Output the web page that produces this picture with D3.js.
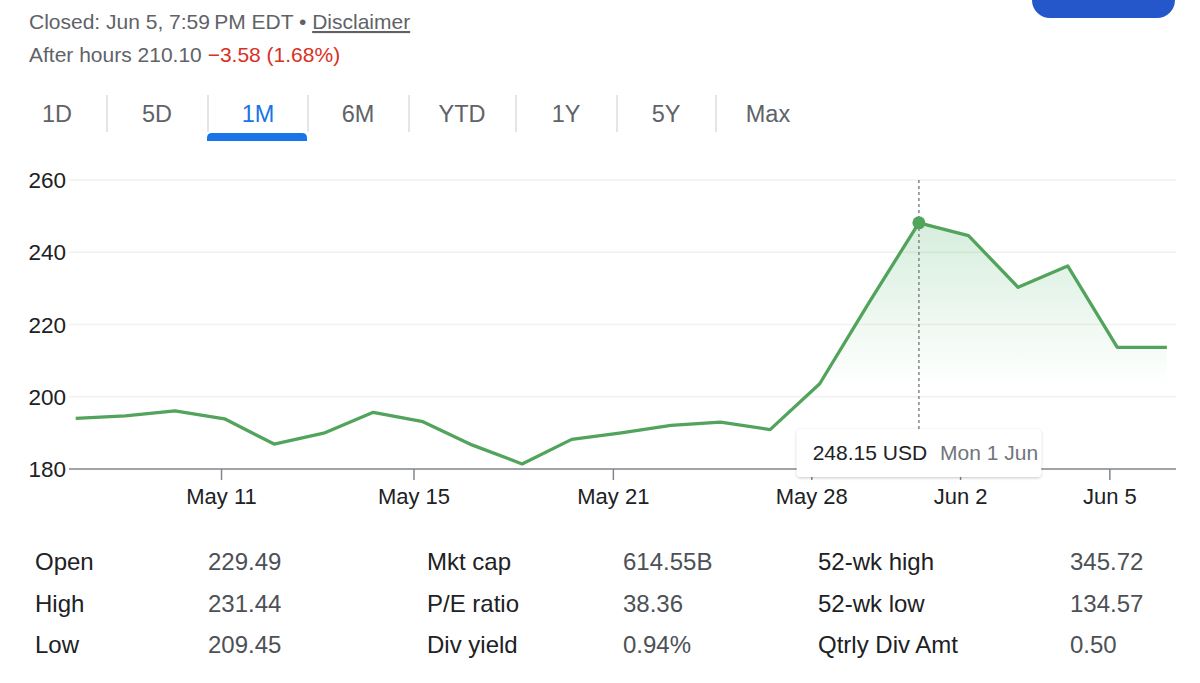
<!DOCTYPE html>
<html>
<head>
<meta charset="utf-8">
<script src="https://cdn.jsdelivr.net/npm/d3@7"></script>
<style>
  body { margin: 0; background: #fff; }
  svg { display: block; font-family: Arial, "Liberation Sans", Helvetica, sans-serif; }
</style>
</head>
<body>
<div id="chart"></div>
<script>
// Data
const dates = ["May 6", "May 7", "May 8", "May 11", "May 12", "May 13", "May 14", "May 15",
  "May 18", "May 19", "May 20", "May 21", "May 22", "May 26", "May 27", "May 28",
  "May 29", "Jun 1", "Jun 2", "Jun 3", "Jun 4", "Jun 5", "Jun 5 AH"];
const prices = [194.0, 194.7, 196.1, 193.9, 186.9, 189.9, 195.7, 193.1,
  186.6, 181.4, 188.2, 190.0, 192.1, 193.0, 190.9, 203.6,
  226.2, 248.15, 244.6, 230.3, 236.2, 213.68, 213.68];
const yTicks = [180, 200, 220, 240, 260];
const xTickLabels = ["May 11", "May 15", "May 21", "May 28", "Jun 2", "Jun 5"];
const xTickValues = [2.93, 6.81, 10.83, 14.83, 17.83, 20.84]; // in trading-day index units
const tabs = ["1D", "5D", "1M", "6M", "YTD", "1Y", "5Y", "Max"];
const activeTab = "1M";
const statLabels = [["Open", "High", "Low"], ["Mkt cap", "P/E ratio", "Div yield"], ["52-wk high", "52-wk low", "Qtrly Div Amt"]];
const statValues = [["229.49", "231.44", "209.45"], ["614.55B", "38.36", "0.94%"], ["345.72", "134.57", "0.50"]];
const hoverLabel = "Mon 1 Jun";

const width = 1200, height = 683;
const green = "#52a35b";

const svg = d3.select("#chart").append("svg")
  .attr("width", width)
  .attr("height", height);

// header
svg.append("rect")
  .attr("x", 1032).attr("y", -20)
  .attr("width", 143).attr("height", 38)
  .attr("rx", 18)
  .attr("fill", "#2557ca");

const line1 = svg.append("text")
  .attr("x", 29).attr("y", 29)
  .attr("font-size", "21px")
  .attr("fill", "#5f6368");
line1.append("tspan").text("Closed: Jun 5, 7:59\u2009PM EDT • ");
line1.append("tspan").attr("text-decoration", "underline").text("Disclaimer");

const line2 = svg.append("text")
  .attr("x", 29).attr("y", 62)
  .attr("font-size", "21px")
  .attr("fill", "#5f6368");
line2.append("tspan").text("After hours 210.10 ");
line2.append("tspan").attr("fill", "#d93025").text("\u22123.58 (1.68%)");

// tabs
const tabCenters = [57, 157, 258, 358, 462, 566, 666, 768];
const tabSeps = [107, 208, 308, 409, 516, 617, 716];
svg.selectAll(".tab")
  .data(tabs)
  .enter()
  .append("text")
  .attr("class", "tab")
  .attr("x", (d, i) => tabCenters[i])
  .attr("y", 122)
  .attr("text-anchor", "middle")
  .attr("font-size", "23.5px")
  .attr("fill", d => d === activeTab ? "#1a73e8" : "#5f6368")
  .text(d => d);

svg.selectAll(".tab-sep")
  .data(tabSeps)
  .enter()
  .append("line")
  .attr("x1", d => d).attr("x2", d => d)
  .attr("y1", 95).attr("y2", 132)
  .attr("stroke", "#dadce0")
  .attr("stroke-width", 1.5);

const activeIdx = tabs.indexOf(activeTab);
svg.append("path")
  .attr("d", () => {
    const x0 = tabSeps[activeIdx - 1] - 1, x1 = tabSeps[activeIdx] - 1, y0 = 133, y1 = 141, r = 5;
    return `M${x0},${y1} L${x0},${y0 + r} Q${x0},${y0} ${x0 + r},${y0} L${x1 - r},${y0} Q${x1},${y0} ${x1},${y0 + r} L${x1},${y1} Z`;
  })
  .attr("fill", "#1a73e8");

// chart scales
const x = d3.scaleLinear()
  .domain([0, prices.length - 1])
  .range([75.7, 1166.9]);

const y = d3.scaleLinear()
  .domain([180, 260])
  .range([469, 180]);

const plotLeft = 69, plotRight = 1176;

// gridlines
svg.append("g")
  .selectAll("line")
  .data(yTicks.filter(d => d !== 180))
  .enter()
  .append("line")
  .attr("x1", plotLeft).attr("x2", plotRight)
  .attr("y1", d => y(d)).attr("y2", d => y(d))
  .attr("stroke", "#f1f1f1")
  .attr("stroke-width", 1.5);

// y labels
svg.append("g")
  .selectAll("text")
  .data(yTicks)
  .enter()
  .append("text")
  .attr("x", 66)
  .attr("y", d => y(d))
  .attr("dy", "0.36em")
  .attr("text-anchor", "end")
  .attr("font-size", "22.5px")
  .attr("fill", "#202124")
  .text(d => d);

// gradient for area
const defs = svg.append("defs");
const grad = defs.append("linearGradient")
  .attr("id", "area-grad")
  .attr("gradientUnits", "userSpaceOnUse")
  .attr("x1", 0).attr("y1", y(248))
  .attr("x2", 0).attr("y2", y(203));
grad.append("stop").attr("offset", "0%").attr("stop-color", "#34a853").attr("stop-opacity", 0.2);
grad.append("stop").attr("offset", "100%").attr("stop-color", "#34a853").attr("stop-opacity", 0);

const shadow = defs.append("filter").attr("id", "tip-shadow")
  .attr("x", "-20%").attr("y", "-40%").attr("width", "140%").attr("height", "180%");
shadow.append("feDropShadow")
  .attr("dx", 0).attr("dy", 1)
  .attr("stdDeviation", 1.8)
  .attr("flood-color", "#000")
  .attr("flood-opacity", 0.22);

const series = prices.map((p, i) => ({ i, p, date: dates[i] }));

const area = d3.area()
  .x(d => x(d.i))
  .y0(y(180))
  .y1(d => y(d.p));

svg.append("path")
  .datum(series)
  .attr("fill", "url(#area-grad)")
  .attr("d", area);

// x axis
const xAxis = d3.axisBottom(x)
  .tickValues(xTickValues)
  .tickFormat((d, i) => xTickLabels[i])
  .tickSize(11)
  .tickSizeOuter(0)
  .tickPadding(8);

const axisG = svg.append("g")
  .attr("transform", `translate(0,${y(180)})`)
  .call(xAxis);
axisG.select(".domain")
  .attr("d", `M${plotLeft},0H${plotRight}`)
  .attr("stroke", "#80868b")
  .attr("stroke-width", 1.5);
axisG.selectAll(".tick line")
  .attr("stroke", "#80868b")
  .attr("stroke-width", 1.5);
axisG.selectAll(".tick text")
  .attr("font-size", "22px")
  .attr("font-family", "Arial, 'Liberation Sans', sans-serif")
  .attr("fill", "#202124")
  .attr("dy", "0.74em");

// hover marker
const peak = series.reduce((a, b) => (b.p > a.p ? b : a));
svg.append("line")
  .attr("x1", x(peak.i)).attr("x2", x(peak.i))
  .attr("y1", y(260)).attr("y2", 430)
  .attr("stroke", "#80868b")
  .attr("stroke-width", 1.5)
  .attr("stroke-dasharray", "3,3");

// price line
const line = d3.line()
  .x(d => x(d.i))
  .y(d => y(d.p));

svg.append("path")
  .datum(series)
  .attr("fill", "none")
  .attr("stroke", green)
  .attr("stroke-width", 3.3)
  .attr("stroke-linejoin", "round")
  .attr("d", line);

svg.append("circle")
  .attr("cx", x(peak.i))
  .attr("cy", y(peak.p))
  .attr("r", 6.5)
  .attr("fill", green);

// tooltip
const tip = svg.append("g");
const tipBox = tip.append("rect")
  .attr("rx", 4)
  .attr("fill", "#fff")
  .attr("filter", "url(#tip-shadow)");
const tipText = tip.append("text")
  .attr("y", 460)
  .attr("font-size", "21px");
tipText.append("tspan").attr("fill", "#202124").text(`${peak.p.toFixed(2)} USD`);
tipText.append("tspan").attr("dx", 13).attr("fill", "#70757a").text(hoverLabel);

const tw = tipText.node().getComputedTextLength();
const pad = 16;
const boxW = tw + pad * 2;
const boxX = x(peak.i) - boxW / 2;
tipBox.attr("x", boxX).attr("y", 429)
  .attr("width", boxW).attr("height", 48);
tipText.attr("x", boxX + pad);

// stats table
const labelX = [35, 427, 818];
const valueX = [208, 623, 1070];
const rowY = [570, 612, 653];

statLabels.forEach((col, c) => {
  svg.append("g")
    .selectAll("text")
    .data(col)
    .enter()
    .append("text")
    .attr("x", labelX[c])
    .attr("y", (d, r) => rowY[r])
    .attr("font-size", "24px")
    .attr("fill", "#202124")
    .text(d => d);

  svg.append("g")
    .selectAll("text")
    .data(statValues[c])
    .enter()
    .append("text")
    .attr("x", valueX[c])
    .attr("y", (d, r) => rowY[r])
    .attr("font-size", "24px")
    .attr("fill", "#4d5156")
    .text(d => d);
});
</script>
</body>
</html>
